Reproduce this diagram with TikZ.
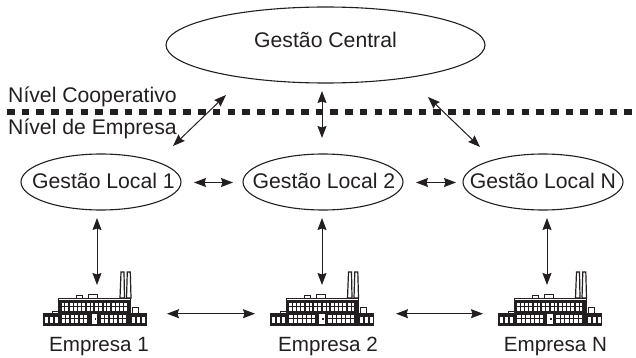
\documentclass[tikz,border=0pt]{standalone}
\usepackage{fontspec}
\setmainfont{Liberation Sans}
\usetikzlibrary{arrows.meta,shapes.geometric}
\definecolor{ink}{HTML}{231F20}
\newcommand{\dropbase}[2]{\raisebox{-#1}[0pt][0pt]{#2}}
\tikzset{
 x=1pt,y=-1pt,
 lbl/.style={inner sep=0pt,font=\fontsize{21.2}{25}\selectfont,text=ink},
 emp/.style={inner sep=0pt,font=\fontsize{20.6}{25}\selectfont,text=ink,anchor=base},
 oval/.style={draw=ink,ellipse,line width=1.1pt,lbl,inner xsep=-40pt,inner ysep=0pt,minimum width=160pt,minimum height=56pt},
 link/.style={draw=ink,line width=1pt,{Stealth[length=12pt,width=9pt,inset=1.5pt]}-{Stealth[length=12pt,width=9pt,inset=1.5pt]}},
 dotline/.style={draw=ink,line width=6.8pt,dash pattern=on 7.6pt off 7.1pt},
 fac/.pic={
  % chimneys
  \draw[ink,line width=1.2pt,fill=white] (26.5,-54) -- (25.5,-28) -- (30,-28) -- (29.5,-54) -- cycle;
  \draw[ink,line width=1.2pt,fill=white] (32.8,-54) -- (32,-28) -- (36.5,-28) -- (35.8,-54) -- cycle;
  % roof boxes and side bumps
  \draw[ink,line width=1pt,fill=white] (-18,-31) rectangle (-12,-28);
  \draw[ink,line width=1pt,fill=white] (-6,-32) rectangle (3,-28);
  \draw[ink,line width=1pt,fill=white] (-42,-15) rectangle (-35,-12);
  \draw[ink,line width=1pt,fill=white] (38,-19) rectangle (44,-12);
  % walls
  \fill[ink] (-36.5,-28.5) rectangle (36.5,0);
  \fill[ink] (-52,-13) rectangle (-36,0);
  \fill[ink] (36,-13) rectangle (52,0);
  \fill[white] (-35.5,-26.6) rectangle (35.5,-25.6);
  % upper windows
  \foreach \i in {0,...,7}{
   \fill[white] ({-33+8.4*\i},-23) rectangle ++(6.6,7.5);
   \fill[ink] ({-33+8.4*\i+2.9},-23) rectangle ++(.8,7.5);
   \fill[ink] ({-33+8.4*\i},-19.7) rectangle ++(6.6,.8);
  }
  % lower windows
  \foreach \i in {0,1,2}{
   \fill[white] ({-33+9*\i},-11) rectangle ++(7.8,7.5);
   \fill[ink] ({-33+9*\i+3.5},-11) rectangle ++(.8,7.5);
   \fill[ink] ({-33+9*\i},-7.7) rectangle ++(7.8,.8);
   \fill[white] ({6+9*\i},-11) rectangle ++(7.8,7.5);
   \fill[ink] ({6+9*\i+3.5},-11) rectangle ++(.8,7.5);
   \fill[ink] ({6+9*\i},-7.7) rectangle ++(7.8,.8);
  }
  % door
  \fill[white] (-3,-12) rectangle (2.5,-2.5);
  \fill[ink] (.3,-8) rectangle (1.8,-6);
  % wing windows
  \foreach \i in {0,1,2}{
   \fill[white] ({-50+5*\i},-9.5) rectangle ++(3,6.5);
   \fill[white] ({37.5+5*\i},-9.5) rectangle ++(3,6.5);
  }
 }
}
\begin{document}
\begin{tikzpicture}
\useasboundingbox (0,0) rectangle (636,358);
\node[oval,minimum width=319pt,minimum height=76pt] (gc) at (325.5,45) {\dropbase{2.7pt}{Gestão Central}};
\node[lbl,anchor=base west] (nc) at (8,102.5) {Nível Cooperativo};
\node[lbl,anchor=base west] (ne) at (8,134.5) {Nível de Empresa};
\coordinate (dl) at (7,112);
\coordinate (dr) at (636,112);
\draw[dotline] (dl) -- (dr);
\node[oval] (g1) at (101,182) {\hspace*{5pt}\dropbase{6pt}{Gestão Local 1}};
\node[oval] (g2) at (323,182) {\hspace*{2pt}\dropbase{6pt}{Gestão Local 2}};
\node[oval] (gn) at (543,182) {\dropbase{6pt}{Gestão Local N}};
\coordinate (a1) at (226,95); \coordinate (b1) at (173,146);
\coordinate (a2) at (322,91); \coordinate (b2) at (322,138);
\coordinate (a3) at (428,97); \coordinate (b3) at (480,147);
\draw[link] (a1) -- (b1);
\draw[link] (a2) -- (b2);
\draw[link] (a3) -- (b3);
\coordinate (h1a) at (194,182.5); \coordinate (h1b) at (233,182.5);
\coordinate (h2a) at (416,182.5); \coordinate (h2b) at (456,182.5);
\draw[link] (h1a) -- (h1b);
\draw[link] (h2a) -- (h2b);
\pic (f1) at (94.5,326) {fac};
\pic (f2) at (322,326) {fac};
\pic (f3) at (550,326) {fac};
\coordinate (v1a) at (97,218); \coordinate (v1b) at (97,285);
\coordinate (v2a) at (322,218); \coordinate (v2b) at (322,285);
\coordinate (v3a) at (547,218); \coordinate (v3b) at (547,285);
\draw[link] (v1a) -- (v1b);
\draw[link] (v2a) -- (v2b);
\draw[link] (v3a) -- (v3b);
\coordinate (h3a) at (167,313.7); \coordinate (h3b) at (255,313.7);
\coordinate (h4a) at (396,313.7); \coordinate (h4b) at (483,313.7);
\draw[link] (h3a) -- (h3b);
\draw[link] (h4a) -- (h4b);
\node[emp] (e1) at (99,351.7) {Empresa 1};
\node[emp] (e2) at (328,351.7) {Empresa 2};
\node[emp] (e3) at (555.5,351.7) {Empresa N};
\end{tikzpicture}
\end{document}
